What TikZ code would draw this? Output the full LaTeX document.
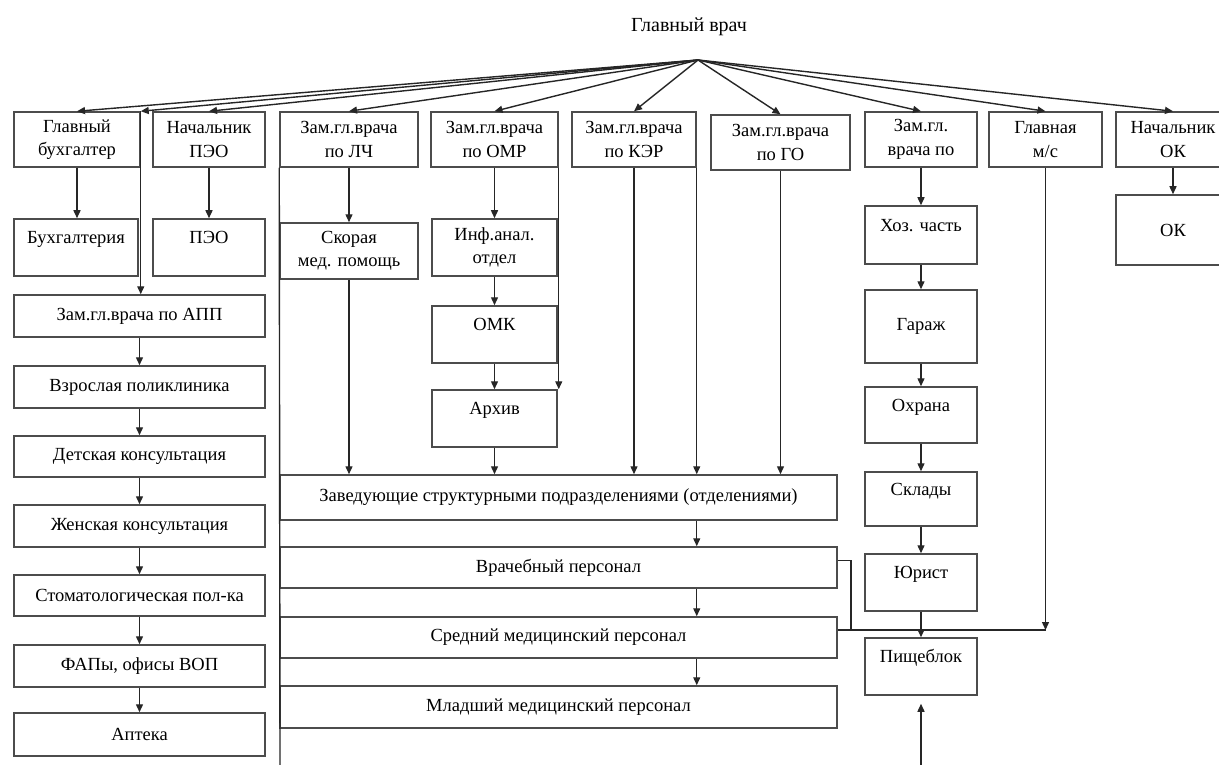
\documentclass[tikz,border=0pt]{standalone}
\usepackage{fontspec}
\setmainfont{Liberation Serif}
\usetikzlibrary{arrows.meta,calc}
\newcommand*{\OrgBox}[7][]{% #1 = extra style, #2 = name, #3/#4 = left/top, #5/#6 = right/bottom, #7 = text
\node [box, #1, minimum width={#5-#3}, minimum height={#6-#4}]
(#2) at ({(#3+#5)/2},{(#4+#6)/2}) {#7};
}

\begin{document}
\begin{tikzpicture}[x=1pt, y=-1pt,
  box/.style={draw=black!70, line width=1.5pt, align=center, inner sep=2pt,
    font=\fontsize{18.5}{23.5}\selectfont},
  upper/.style={text height=12pt, text depth=20pt},
  arr/.style={-{Triangle[length=8pt,width=7pt]}},
  line/.style={draw=black!85, line width=1.4pt}]
\useasboundingbox (0,0) rectangle (1219,765);

\node [font=\fontsize{20}{24}\selectfont] (gv) at (689,27) {Главный врач};
\coordinate (apex) at (698,60);

% first row
\OrgBox{gb}{14}{112}{140}{167}{Главный\\бухгалтер}
\OrgBox{npeo}{153}{112}{265}{167}{Начальник\\ПЭО}
\OrgBox{lch}{280}{112}{418}{167}{Зам.гл.врача\\по ЛЧ}
\OrgBox{omr}{431}{112}{558}{167}{Зам.гл.врача\\по ОМР}
\OrgBox{ker}{572}{112}{696}{167}{Зам.гл.врача\\по КЭР}
\OrgBox{go}{711}{115}{850}{170}{Зам.гл.врача\\по ГО}
\OrgBox{zam}{865}{112}{977}{167}{Зам.гл.\\врача по}
\OrgBox{gms}{989}{112}{1102}{167}{Главная\\м/с}
\OrgBox{nok}{1116}{112}{1230}{167}{Начальник\\ОК}

% second level
\OrgBox[upper]{buh}{14}{219}{138}{276}{Бухгалтерия}
\OrgBox[upper]{peo}{153}{219}{265}{276}{ПЭО}
\OrgBox{skor}{280}{223}{418}{279}{Скорая\\мед. помощь}
\OrgBox{inf}{432}{219}{557}{276}{Инф.анал.\\отдел}
\OrgBox[upper]{omk}{432}{306}{557}{363}{ОМК}
\OrgBox[upper]{arh}{432}{390}{557}{447}{Архив}
\OrgBox[upper]{xoz}{865}{206}{977}{264}{Хоз. часть}
\OrgBox{gar}{865}{290}{977}{363}{Гараж}
\OrgBox[upper]{ohr}{865}{387}{977}{443}{Охрана}
\OrgBox[upper]{skl}{865}{472}{977}{526}{Склады}
\OrgBox[upper]{yur}{865}{554}{977}{611}{Юрист}
\OrgBox[upper]{pish}{865}{638}{977}{695}{Пищеблок}
\OrgBox{ok}{1116}{195}{1230}{265}{ОК}

% left column
\OrgBox{app}{14}{295}{265}{337}{Зам.гл.врача по АПП}
\OrgBox{vzr}{14}{366}{265}{408}{Взрослая поликлиника}
\OrgBox{det}{14}{436}{265}{477}{Детская консультация}
\OrgBox{zhen}{14}{505}{265}{547}{Женская консультация}
\OrgBox{stom}{14}{575}{265}{616}{Стоматологическая пол-ка}
\OrgBox{fap}{14}{645}{265}{687}{ФАПы, офисы ВОП}
\OrgBox{apt}{14}{713}{265}{756}{Аптека}

% staff
\OrgBox{zav}{280}{475}{837}{520}{Заведующие структурными подразделениями (отделениями)}
\OrgBox{vrach}{280}{547}{837}{588}{Врачебный персонал}
\OrgBox{sred}{280}{617}{837}{658}{Средний медицинский персонал}
\OrgBox{mlad}{280}{686}{837}{728}{Младший медицинский персонал}

\coordinate (lchend) at (280,765);
\coordinate (junc) at (1045.5,630);
\coordinate (bend) at (851,630);
\coordinate (pishin) at (921,765);

\foreach \t in {gb.north, gb.north east, npeo.north, lch.north, omr.north,
  ker.north, go.north, zam.north, gms.north, nok.north}
  \draw [line, arr] (apex) -- (\t);
\draw [line, arr] (gb.north east) -- (gb.north east |- app.north);

\foreach \a/\b in {gb/buh, npeo/peo, lch/skor, omr/inf, inf/omk, omk/arh,
  zam/xoz, xoz/gar, gar/ohr, ohr/skl, skl/yur, yur/pish, nok/ok,
  app/vzr, vzr/det, det/zhen, zhen/stom, stom/fap, fap/apt}
  \draw [line, arr] (\a.south) -- (\a.south |- \b.north);

\foreach \a/\b in {zav/vrach, vrach/sred, sred/mlad}
  \draw [line, arr] (\a.south -| ker.east) -- (\b.north -| ker.east);

\foreach \a in {skor.south, arh.south, ker.south, ker.south east, go.south}
  \draw [line, arr] (\a) -- (\a |- zav.north);

\draw [line, arr] (omr.south east) -- (omr.south east |- arh.north);
\draw [line] (lch.south west) -- (lchend);
\draw [line, arr] (gms.south) -- (junc);
\draw [line] (sred.east |- junc) -- (junc);
\draw [line] ($(vrach.east)+(0,-7)$) -| (bend);
\draw [line, arr, shorten >=8pt] (pishin) -- (pish.south);
\end{tikzpicture}
\end{document}
